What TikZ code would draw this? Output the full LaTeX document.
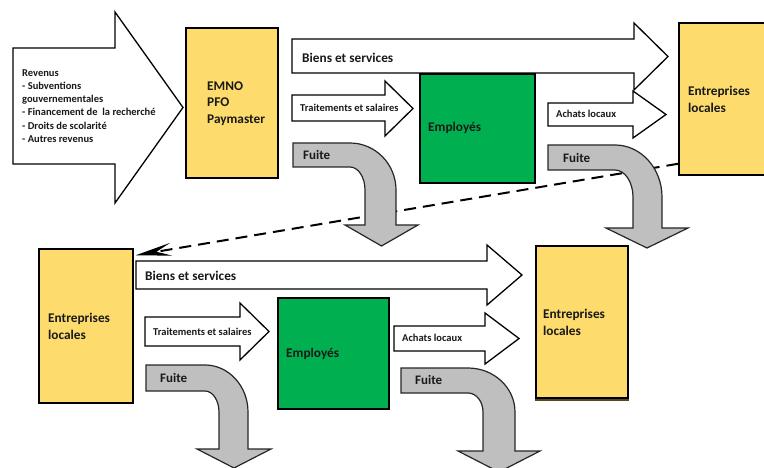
\documentclass[tikz,border=0pt]{standalone}
\usepackage{fontspec}
\setmainfont{Carlito}
\usetikzlibrary{arrows.meta}
\definecolor{boxyellow}{RGB}{253,219,108}
\definecolor{boxgreen}{RGB}{0,176,80}
\definecolor{fuitegray}{RGB}{191,191,191}
\definecolor{shadowcol}{RGB}{85,72,30}
\tikzset{
  blockarrow/.style={draw=black, fill=white, line width=1.3pt, line join=miter},
  fuitearrow/.style={draw=black!85, fill=fuitegray, line width=1.2pt, line join=miter},
  ybox/.style={draw=black, fill=boxyellow, line width=1.5pt, inner sep=0pt},
  gbox/.style={draw=black, fill=boxgreen, line width=1.5pt, inner sep=0pt},
  bigtxt/.style={font=\bfseries\fontsize{13.3}{16.8}\selectfont, text=black!90, align=left, inner sep=0pt, anchor=west},
  smalltxt/.style={font=\bfseries\fontsize{10.5}{13.2}\selectfont, text=black!90, align=left, inner sep=0pt, anchor=west},
  fuitetxt/.style={font=\bfseries\fontsize{13}{15}\selectfont, text=black!90, inner sep=0pt, anchor=west},
  dashlink/.style={line width=2pt, dash pattern=on 12pt off 7pt, -{Stealth[length=36pt,width=13pt,inset=15pt]}}
}
\newcommand{\barrow}[7]{\draw[blockarrow] (#1,#2) -- (#4,#2) -- (#4,#5) -- (#7,{(#5+#6)/2}) -- (#4,#6) -- (#4,#3) -- (#1,#3) -- cycle;}
\begin{document}
\begin{tikzpicture}[x=1pt,y=-1pt]
\useasboundingbox (0,0) rectangle (764,468);
\clip (0,0) rectangle (764,468);

% white block arrows
\barrow{13}{48}{164}{115}{12}{203}{183}
\barrow{292}{39}{73}{634}{23}{90}{668}
\barrow{292}{95}{121}{385}{81}{136}{413}
\barrow{548}{103}{126}{633}{91}{138}{666}
\barrow{136}{261}{289}{487}{245}{305}{522}
\barrow{145}{317}{346}{240}{303}{360}{269}
\barrow{394}{326}{351}{485}{313}{364}{519}

% boxes
\node[ybox, minimum width=92pt, minimum height=150pt] (emno) at (232,103) {};
\node[gbox, minimum width=115pt, minimum height=109pt] (emp1) at (477.5,128.5) {};
\node[ybox, minimum width=96pt, minimum height=152pt] (ent1) at (727,99) {};
\node[ybox, minimum width=94pt, minimum height=154pt] (ent2) at (86,326) {};
\node[gbox, minimum width=111pt, minimum height=111pt] (emp2) at (333.5,353.5) {};
\fill[shadowcol] (535,250) rectangle (629,401);
\node[ybox, minimum width=92pt, minimum height=152pt] (ent3) at (582,322) {};

% dashed link
\coordinate (dstart) at ([yshift=12pt]ent1.south west);
\coordinate (dend) at ([xshift=2pt,yshift=-7pt]ent2.north east);
\draw[dashlink] (dstart) -- (dend);

% fuite arrows
\draw[fuitearrow] (293,143) -- (350,143) .. controls (375.4,143) and (396,164.1) .. (396,190)
  -- (396,225) -- (418,225) -- (381.5,246) -- (345,225) -- (365,225) -- (365,190)
  .. controls (365,177.3) and (358.3,167) .. (350,167) -- (293,167) -- cycle;
\draw[fuitearrow] (548,145) -- (615,145) .. controls (640.9,145) and (662,168.3) .. (662,197)
  -- (662,228) -- (688,228) -- (647,248) -- (606,228) -- (633,228) -- (633,197)
  .. controls (633,182.1) and (624.9,170) .. (615,170) -- (548,170) -- cycle;
\draw[fuitearrow] (146,365) -- (205,365) .. controls (228.7,365) and (248,386.1) .. (248,412)
  -- (248,449) -- (271,449) -- (234,468) -- (197,449) -- (219,449) -- (219,412)
  .. controls (219,400.4) and (212.7,391) .. (205,391) -- (146,391) -- cycle;
\draw[fuitearrow] (401,368) -- (468,368) .. controls (493.9,368) and (515,387.7) .. (515,412)
  -- (515,451) -- (540,451) -- (499,472) -- (458,451) -- (483,451) -- (483,412)
  .. controls (483,401.5) and (476.3,393) .. (468,393) -- (401,393) -- cycle;

% texts
\node[smalltxt] (rev) at (22,106) {Revenus\\- Subventions\\gouvernementales\\- Financement de\ \ la recherché\\- Droits de scolarité\\- Autres revenus};
\node[bigtxt] (temno) at (207,103.5) {EMNO\\PFO\\Paymaster};
\node[bigtxt] (temp1) at (428,128) {Employés};
\node[bigtxt] (tent1) at (688,99.5) {Entreprises\\locales};
\node[bigtxt] (tent2) at (48,326) {Entreprises\\locales};
\node[bigtxt] (tent3) at (543,322) {Entreprises\\locales};
\node[bigtxt] (temp2) at (286,354) {Employés};
\node[bigtxt] (tbs1) at (302,58) {Biens et services};
\node[bigtxt] (tbs2) at (145,276) {Biens et services};
\begin{scope}
\clip (290,90) rectangle (397,125);
\node[smalltxt] (tts1) at (300,108) {Traitements et salaires};
\end{scope}
\node[smalltxt] (tts2) at (153,332) {Traitements et salaires};
\node[smalltxt] (tach1) at (556,114) {Achats locaux};
\node[smalltxt] (tach2) at (402,338) {Achats locaux};
\node[fuitetxt] (tf1) at (303,155) {Fuite};
\node[fuitetxt] (tf2) at (563,158) {Fuite};
\node[fuitetxt] (tf3) at (160,378) {Fuite};
\node[fuitetxt] (tf4) at (415,380) {Fuite};
\end{tikzpicture}
\end{document}
